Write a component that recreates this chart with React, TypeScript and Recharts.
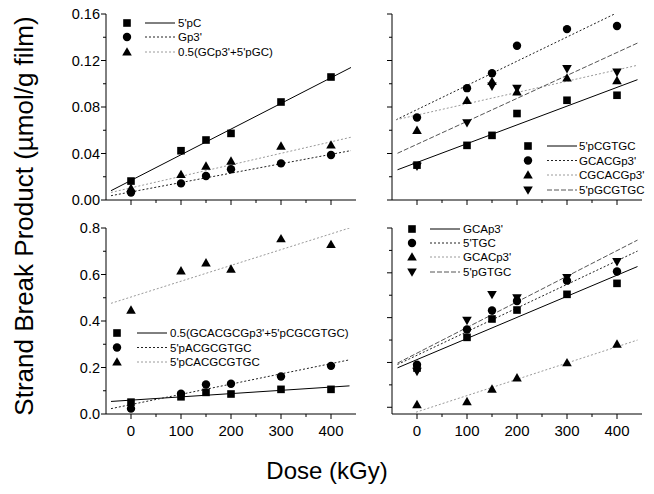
import React from 'react'
import { ComposedChart, Scatter, Line, XAxis, YAxis } from 'recharts'

const DOSES = [0, 100, 150, 200, 300, 400]
const X_TICKS = [0, 50, 100, 150, 200, 250, 300, 350, 400]
const Y_TICKS_TOP = [0, 0.02, 0.04, 0.06, 0.08, 0.1, 0.12, 0.14, 0.16]
const Y_TICKS_BOTTOM = [0, 0.1, 0.2, 0.3, 0.4, 0.5, 0.6, 0.7, 0.8]

// top left panel
const PC = [0.0163, 0.0424, 0.0516, 0.0573, 0.0843, 0.1058]
const GP3 = [0.0065, 0.0143, 0.0206, 0.0264, 0.0315, 0.0387]
const GC_MIX = [0.01, 0.022, 0.0292, 0.0335, 0.0464, 0.0473]
const PC_FIT = [[-40, 0.008], [440, 0.114]]
const GP3_FIT = [[-40, 0.0037], [440, 0.0425]]
const GC_MIX_FIT = [[-40, 0.0065], [440, 0.054]]

// top right panel
const PCGTGC = [0.03, 0.047, 0.0556, 0.0744, 0.0858, 0.0901]
const GCACGP3 = [0.071, 0.0962, 0.109, 0.1327, 0.147, 0.1497]
const CGCACGP3 = [0.0599, 0.0856, 0.102, 0.093, 0.105, 0.1027]
const PGCGTGC = [0.029, 0.0664, 0.098, 0.096, 0.113, 0.11]
const PCGTGC_FIT = [[-39, 0.026], [441, 0.1035]]
const GCACGP3_FIT = [[-42, 0.069], [395, 0.16]]
const CGCACGP3_FIT = [[-42, 0.069], [440, 0.1158]]
const PGCGTGC_FIT = [[-39, 0.0402], [441, 0.135]]

// bottom left panel
const MIX8 = [0.051, 0.074, 0.093, 0.086, 0.106, 0.106]
const PACGCGTGC = [0.023, 0.087, 0.127, 0.13, 0.161, 0.207]
const PCACGCGTGC = [0.447, 0.616, 0.65, 0.623, 0.754, 0.729]
const MIX8_FIT = [[-40, 0.054], [437, 0.121]]
const PACGCGTGC_FIT = [[-40, 0.023], [437, 0.233]]
const PCACGCGTGC_FIT = [[-40, 0.476], [437, 0.8]]

// bottom right panel
const GCAP3 = [0.175, 0.312, 0.394, 0.434, 0.504, 0.553]
const TGC = [0.19, 0.347, 0.432, 0.474, 0.565, 0.606]
const GCACP3 = [0.012, 0.025, 0.081, 0.131, 0.199, 0.282]
const PGTGC = [0.16, 0.388, 0.503, 0.488, 0.579, 0.65]
const GCAP3_FIT = [[-39, 0.176], [441, 0.628]]
const TGC_FIT = [[-39, 0.191], [441, 0.697]]
const GCACP3_FIT = [[-2, -0.022], [441, 0.3]]
const PGTGC_FIT = [[-39, 0.197], [441, 0.746]]

const FONT = "'Liberation Sans', Arial, sans-serif"
const W = 654
const H = 494

type Kind = 'square' | 'circle' | 'up' | 'down'
type Style = { stroke: string; dash?: string }

const SOLID: Style = { stroke: '#000' }
const DOTTED: Style = { stroke: '#222', dash: '2 2' }
const GREY: Style = { stroke: '#9a9a9a', dash: '2 2' }
const DASHED: Style = { stroke: '#555', dash: '5 2' }

type Series = { name: string; kind: Kind; values: number[]; fit: number[][]; style: Style }

type Panel = {
  left: number
  right: number
  top: number
  bottom: number
  yDomain: [number, number]
  yTicks: number[]
  yMajor: number
  yDigits: number
  yLabels: boolean
  xLabels: boolean
  legend: { mx: number; rows: number[]; lx1: number; lx2: number; tx: number }
  series: Series[]
}

const PANELS: Panel[] = [
  {
    left: 106, right: 356, top: 14, bottom: 200,
    yDomain: [0, 0.16], yTicks: Y_TICKS_TOP, yMajor: 0.04, yDigits: 2, yLabels: true, xLabels: false,
    legend: { mx: 127, rows: [23, 37, 52], lx1: 145, lx2: 175, tx: 178 },
    series: [
      { name: "5'pC", kind: 'square', values: PC, fit: PC_FIT, style: SOLID },
      { name: "Gp3'", kind: 'circle', values: GP3, fit: GP3_FIT, style: DOTTED },
      { name: "0.5(GCp3'+5'pGC)", kind: 'up', values: GC_MIX, fit: GC_MIX_FIT, style: GREY },
    ],
  },
  {
    left: 392, right: 642, top: 14, bottom: 200,
    yDomain: [0, 0.16], yTicks: Y_TICKS_TOP, yMajor: 0.04, yDigits: 2, yLabels: false, xLabels: false,
    legend: { mx: 528, rows: [146, 160.5, 175, 190], lx1: 547, lx2: 577, tx: 579 },
    series: [
      { name: "5'pCGTGC", kind: 'square', values: PCGTGC, fit: PCGTGC_FIT, style: SOLID },
      { name: "GCACGp3'", kind: 'circle', values: GCACGP3, fit: GCACGP3_FIT, style: DOTTED },
      { name: "CGCACGp3'", kind: 'up', values: CGCACGP3, fit: CGCACGP3_FIT, style: GREY },
      { name: "5'pGCGTGC", kind: 'down', values: PGCGTGC, fit: PGCGTGC_FIT, style: DASHED },
    ],
  },
  {
    left: 106, right: 356, top: 228, bottom: 414,
    yDomain: [0, 0.8], yTicks: Y_TICKS_BOTTOM, yMajor: 0.2, yDigits: 1, yLabels: true, xLabels: true,
    legend: { mx: 117, rows: [333, 347.5, 362], lx1: 137, lx2: 167, tx: 170 },
    series: [
      { name: "0.5(GCACGCGp3'+5'pCGCGTGC)", kind: 'square', values: MIX8, fit: MIX8_FIT, style: SOLID },
      { name: "5'pACGCGTGC", kind: 'circle', values: PACGCGTGC, fit: PACGCGTGC_FIT, style: DOTTED },
      { name: "5'pCACGCGTGC", kind: 'up', values: PCACGCGTGC, fit: PCACGCGTGC_FIT, style: GREY },
    ],
  },
  {
    left: 392, right: 642, top: 228, bottom: 414,
    yDomain: [-0.03, 0.8], yTicks: Y_TICKS_BOTTOM, yMajor: 0.2, yDigits: 1, yLabels: false, xLabels: true,
    legend: { mx: 412, rows: [229, 243, 257, 272], lx1: 430, lx2: 460, tx: 463 },
    series: [
      { name: "GCAp3'", kind: 'square', values: GCAP3, fit: GCAP3_FIT, style: SOLID },
      { name: "5'TGC", kind: 'circle', values: TGC, fit: TGC_FIT, style: DOTTED },
      { name: "GCACp3'", kind: 'up', values: GCACP3, fit: GCACP3_FIT, style: GREY },
      { name: "5'pGTGC", kind: 'down', values: PGTGC, fit: PGTGC_FIT, style: DASHED },
    ],
  },
]

function Marker({ kind, cx, cy }: { kind: Kind; cx: number; cy: number }) {
  if (cx == null || cy == null) return null
  if (kind === 'square') return <rect x={cx - 3.8} y={cy - 3.8} width={7.6} height={7.6} fill="#000" />
  if (kind === 'circle') return <circle cx={cx} cy={cy} r={4.2} fill="#000" />
  if (kind === 'up')
    return <polygon points={`${cx},${cy - 4.8} ${cx + 4.8},${cy + 3.6} ${cx - 4.8},${cy + 3.6}`} fill="#000" />
  return <polygon points={`${cx},${cy + 4.8} ${cx + 4.8},${cy - 3.6} ${cx - 4.8},${cy - 3.6}`} fill="#000" />
}

const isMajor = (v: number, step: number) => Math.abs(v / step - Math.round(v / step)) < 1e-6

// eslint-disable-next-line @typescript-eslint/no-explicit-any
const YTick = (props: any) => {
  const { x, y, payload, panel } = props
  const major = isMajor(payload.value, panel.yMajor)
  const len = major ? 5 : 3
  return (
    <g>
      <line x1={x - len} x2={x} y1={y} y2={y} stroke="#000" />
      {panel.yLabels && major && (
        <text x={x - len - 1} y={y} dy={5} textAnchor="end" fontSize={14.5} fontFamily={FONT} fill="#000">
          {payload.value.toFixed(panel.yDigits)}
        </text>
      )}
    </g>
  )
}

// eslint-disable-next-line @typescript-eslint/no-explicit-any
const XTick = (props: any) => {
  const { x, y, payload, panel } = props
  const major = isMajor(payload.value, 100)
  const len = major ? 5 : 3
  return (
    <g>
      <line x1={x} x2={x} y1={y} y2={y + len} stroke="#000" />
      {panel.xLabels && major && (
        <text x={x} y={y + 22} textAnchor="middle" fontSize={15} fontFamily={"'Liberation Sans Narrow', " + FONT} fill="#000">
          {payload.value}
        </text>
      )}
    </g>
  )
}

function PanelChart({ panel }: { panel: Panel }) {
  return (
    <div style={{ position: 'absolute', left: 0, top: 0 }}>
      <ComposedChart
        width={W}
        height={H}
        margin={{ top: panel.top, left: panel.left - 40, right: W - panel.right, bottom: H - panel.bottom - 30 }}
      >
        <XAxis
          type="number"
          dataKey="x"
          domain={[-50, 450]}
          allowDataOverflow
          ticks={X_TICKS}
          interval={0}
          height={30}
          tickSize={0}
          tickMargin={0}
          tickLine={false}
          axisLine={{ stroke: '#000' }}
          tick={(p: any) => <XTick {...p} panel={panel} />}
        />
        <YAxis
          type="number"
          dataKey="y"
          domain={panel.yDomain}
          allowDataOverflow
          ticks={panel.yTicks}
          interval={0}
          width={40}
          tickSize={0}
          tickMargin={0}
          tickLine={false}
          axisLine={{ stroke: '#000' }}
          tick={(p: any) => <YTick {...p} panel={panel} />}
        />
        {panel.series.map((s) => (
          <Line
            key={'fit-' + s.name}
            data={s.fit.map(([x, y]) => ({ x, y }))}
            dataKey="y"
            type="linear"
            dot={false}
            activeDot={false}
            stroke={s.style.stroke}
            strokeDasharray={s.style.dash}
            strokeWidth={1}
            isAnimationActive={false}
          />
        ))}
        {panel.series.map((s) => (
          <Scatter
            key={'pts-' + s.name}
            data={DOSES.map((x, i) => ({ x, y: s.values[i] }))}
            dataKey="y"
            isAnimationActive={false}
            shape={(p: any) => <Marker kind={s.kind} cx={p.cx} cy={p.cy} />}
          />
        ))}
      </ComposedChart>
    </div>
  )
}

function Legends() {
  return (
    <svg width={W} height={H} style={{ position: 'absolute', left: 0, top: 0 }}>
      {PANELS.map((panel, pi) =>
        panel.series.map((s, i) => {
          const y = panel.legend.rows[i]
          return (
            <g key={pi + '-' + i}>
              <Marker kind={s.kind} cx={panel.legend.mx} cy={y} />
              <line
                x1={panel.legend.lx1}
                x2={panel.legend.lx2}
                y1={y}
                y2={y}
                stroke={s.style.stroke}
                strokeDasharray={s.style.dash}
              />
              <text x={panel.legend.tx} y={y + 4} fontSize={11.5} fontFamily={FONT} fill="#000">
                {s.name}
              </text>
            </g>
          )
        })
      )}
      <text
        transform="translate(33, 216) rotate(-90)"
        textAnchor="middle"
        fontSize={26}
        fontFamily={FONT}
        fill="#000"
      >
        Strand Break Product (µmol/g film)
      </text>
      <text x={327} y={479} textAnchor="middle" fontSize={24} fontFamily={FONT} fill="#000">
        Dose (kGy)
      </text>
    </svg>
  )
}

export default function App() {
  return (
    <div style={{ position: 'absolute', left: 0, top: 0, width: W, height: H, background: '#fff', overflow: 'hidden' }}>
      {PANELS.map((p, i) => (
        <PanelChart key={i} panel={p} />
      ))}
      <Legends />
    </div>
  )
}
